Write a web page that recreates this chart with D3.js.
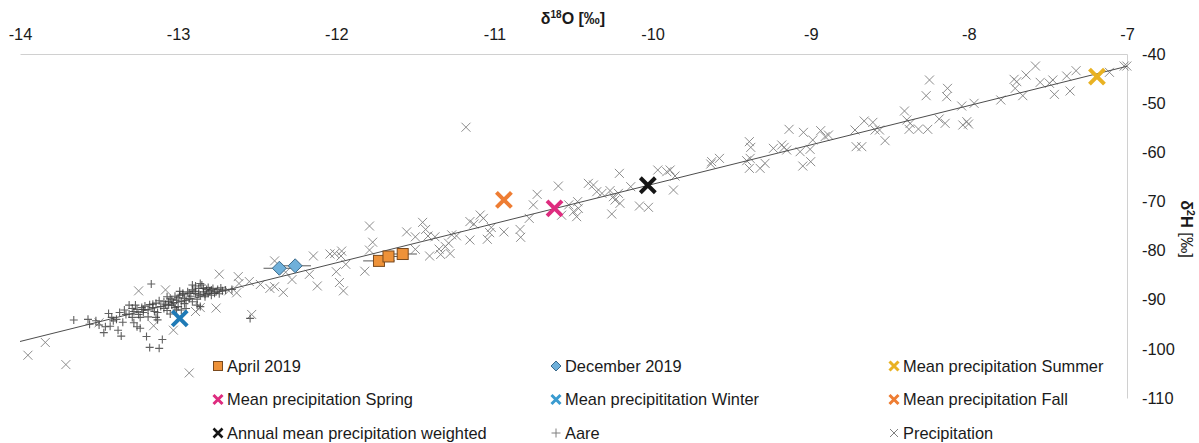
<!DOCTYPE html>
<html>
<head>
<meta charset="utf-8">
<script src="https://cdn.jsdelivr.net/npm/d3@7"></script>
<style>
  html, body { margin: 0; padding: 0; background: #fff; }
  svg { display: block; font-family: "Liberation Sans", Arial, sans-serif; }
</style>
</head>
<body>
<svg id="chart" width="1199" height="443"></svg>
<script>
// Axis ticks
const xTicks = [-14, -13, -12, -11, -10, -9, -8, -7];
const yTicks = [-40, -50, -60, -70, -80, -90, -100, -110];

// Local meteoric water line: d2H = slope * d18O + intercept
const lmwlSlope = 8.0;
const lmwlIntercept = 13.5;

// Precipitation samples [d18O, d2H]
const precipitation = [
  [-13.95, -101.3], [-13.84, -98.7], [-13.71, -103.2], [-12.93, -104.9], [-13.25, -88.2],
  [-13.08, -88.0], [-13.155, -95.3], [-13.03, -96.2], [-13.50, -94.7], [-12.74, -84.8],
  [-12.62, -85.3], [-12.615, -86.7], [-12.63, -88.6], [-12.55, -86.3], [-12.68, -88.2],
  [-12.76, -91.7], [-12.86, -91.6], [-12.89, -92.4], [-12.535, -93.0], [-12.42, -87.7],
  [-12.39, -87.35], [-12.335, -88.5], [-12.48, -86.9], [-12.28, -85.9], [-12.39, -82.1],
  [-12.32, -84.4], [-12.17, -84.84], [-12.12, -87.2], [-12.145, -81.1], [-12.04, -80.7],
  [-12.01, -80.6], [-11.966, -80.1], [-11.97, -81.1], [-12.0, -84.3], [-11.98, -86.5],
  [-11.955, -88.2], [-11.94, -82.8], [-11.82, -84.2], [-11.79, -75.0], [-11.77, -78.3],
  [-11.79, -79.9], [-11.555, -76.2], [-11.50, -77.2], [-11.50, -79.75], [-11.454, -74.26],
  [-11.435, -75.7], [-11.42, -77.04], [-11.41, -81.1], [-11.376, -77.2], [-11.35, -79.7],
  [-11.31, -79.2], [-11.29, -78.5], [-11.28, -80.6], [-11.34, -80.8], [-11.27, -76.8],
  [-11.24, -77.0], [-11.155, -74.1], [-11.13, -74.6], [-11.09, -72.77], [-11.07, -73.45],
  [-11.155, -77.85], [-11.045, -77.7], [-11.03, -76.36], [-11.02, -75.3], [-10.94, -76.2],
  [-10.838, -75.7], [-10.834, -77.3], [-10.78, -73.45], [-10.754, -70.7], [-10.73, -68.56],
  [-10.596, -66.87], [-10.575, -72.8], [-10.53, -70.7], [-10.50, -72.09], [-10.48, -73.1],
  [-10.474, -70.05], [-11.18, -54.9], [-10.469, -71.41], [-10.406, -66.32], [-10.374, -66.66],
  [-10.353, -68.02], [-10.32, -68.36], [-10.269, -67.8], [-10.248, -69.04], [-10.237, -69.71],
  [-10.216, -68.36], [-10.206, -70.39], [-10.21, -64.29], [-10.258, -72.56], [-10.138, -67.0],
  [-10.083, -70.93], [-10.026, -71.2], [-9.967, -63.61], [-9.91, -63.95], [-9.889, -63.61],
  [-9.858, -64.83], [-9.868, -67.68], [-9.632, -62.39], [-9.626, -61.91], [-9.577, -61.24],
  [-9.405, -61.71], [-9.383, -61.24], [-9.388, -57.84], [-9.379, -59.0], [-9.388, -63.27],
  [-9.32, -63.27], [-9.289, -62.25], [-9.236, -59.2], [-9.183, -58.52], [-9.168, -59.0],
  [-9.152, -59.54], [-9.137, -55.33], [-9.067, -59.88], [-9.046, -55.94], [-9.004, -59.4],
  [-8.987, -57.5], [-9.05, -62.8], [-9.0, -61.91], [-8.937, -55.6], [-8.909, -56.8],
  [-8.888, -56.49], [-8.72, -55.47], [-8.713, -58.86], [-8.677, -58.86], [-8.662, -53.64],
  [-8.607, -53.91], [-8.593, -55.47], [-8.565, -55.47], [-8.53, -57.64], [-8.407, -51.6],
  [-8.392, -53.43], [-8.371, -54.11], [-8.378, -55.33], [-8.319, -55.27], [-8.26, -55.33],
  [-8.27, -48.48], [-8.249, -45.29], [-8.188, -53.23], [-8.15, -54.11], [-8.135, -46.99],
  [-8.14, -48.69], [-8.045, -50.59], [-8.038, -54.45], [-8.013, -53.77], [-8.002, -54.25],
  [-7.967, -50.04], [-7.798, -49.36], [-7.714, -45.16], [-7.697, -45.63], [-7.707, -46.99],
  [-7.659, -48.48], [-7.638, -44.28], [-7.579, -42.45], [-7.549, -45.77], [-7.49, -45.97],
  [-7.469, -45.29], [-7.459, -48.21], [-7.381, -44.48], [-7.36, -47.53], [-7.322, -43.4],
  [-7.111, -43.73], [-7.018, -42.45], [-7.001, -42.45]
];

// Aare river samples [d18O, d2H]
const aare = [
  [-13.66, -94.13], [-13.57, -94.0], [-13.56, -95.0], [-13.52, -94.27], [-13.50, -95.15],
  [-13.47, -96.7], [-13.46, -95.5], [-13.44, -92.8], [-13.42, -93.6], [-13.41, -94.3],
  [-13.39, -94.0], [-13.38, -96.2], [-13.37, -92.6], [-13.36, -97.4], [-13.34, -92.1],
  [-13.31, -91.1], [-13.31, -92.9], [-13.29, -93.6], [-13.28, -92.4], [-13.28, -94.7],
  [-13.26, -92.0], [-13.26, -95.5], [-13.24, -95.8], [-13.23, -91.6], [-13.22, -92.6],
  [-13.21, -91.3], [-13.20, -97.5], [-13.19, -93.5], [-13.18, -99.7], [-13.17, -86.8],
  [-13.16, -90.9], [-13.15, -92.4], [-13.14, -93.6], [-13.13, -94.1], [-13.12, -99.9],
  [-13.10, -98.1], [-13.09, -91.8], [-13.09, -90.4], [-13.07, -92.2], [-13.06, -91.1],
  [-13.05, -89.7], [-13.05, -92.9], [-13.03, -90.6], [-13.02, -89.3], [-13.01, -90.1],
  [-13.00, -91.4], [-12.99, -89.1], [-12.98, -90.4], [-12.97, -88.7], [-12.96, -89.7],
  [-12.95, -90.1], [-12.94, -88.4], [-12.92, -89.3], [-12.91, -87.0], [-12.91, -88.0],
  [-12.89, -88.7], [-12.88, -89.9], [-12.87, -87.7], [-12.86, -89.1], [-12.85, -87.0],
  [-12.84, -88.4], [-12.83, -89.4], [-12.82, -87.9], [-12.81, -88.7], [-12.80, -88.2],
  [-12.79, -89.1], [-12.78, -87.7], [-12.77, -88.7], [-12.76, -88.4], [-12.75, -87.9],
  [-12.74, -88.8], [-12.72, -88.2], [-12.70, -88.0], [-12.91, -90.4], [-12.95, -91.8],
  [-12.98, -92.1], [-13.04, -91.1], [-13.11, -91.4], [-13.19, -92.1], [-13.24, -93.6],
  [-13.27, -91.1], [-13.29, -91.8], [-12.86, -91.4], [-12.88, -91.1], [-13.14, -90.7],
  [-13.16, -91.6], [-13.01, -92.1], [-12.545, -93.8], [-12.86, -86.7], [-12.89, -87.2],
  [-12.81, -87.5], [-12.66, -87.9],
  [-13.12, -90.2], [-13.08, -90.9], [-13.04, -90.0], [-13.00, -89.6], [-12.97, -89.0],
  [-12.93, -88.7], [-12.90, -88.3], [-12.87, -88.9], [-12.84, -87.7], [-12.79, -88.0],
  [-12.96, -90.8], [-13.02, -91.6], [-13.06, -90.4], [-13.18, -91.0], [-13.22, -92.0],
  [-13.33, -93.0], [-13.35, -94.6], [-13.25, -93.0], [-13.13, -92.6], [-12.93, -89.8],
  [-12.83, -88.9], [-12.73, -87.6], [-12.99, -88.3], [-13.07, -89.4], [-13.43, -95.4]
];

// Monthly river campaigns [d18O, d2H, d18O error]
const april2019 = [[-11.73, -82.1, 0.10], [-11.67, -81.2, 0.06], [-11.58, -80.7, 0.09]];
const december2019 = [[-12.36, -83.6, 0.10], [-12.26, -83.1, 0.10]];

// Seasonal and annual means of precipitation [d18O, d2H]
const meanSummer = [-7.19, -44.6];
const meanSpring = [-10.62, -71.4];
const meanFall = [-10.94, -69.7];
const meanWinter = [-12.99, -93.8];
const meanAnnual = [-10.03, -66.7];

const legendLabels = [
  "April 2019", "December 2019", "Mean precipitation Summer",
  "Mean precipitation Spring", "Mean precipititation Winter", "Mean precipitation Fall",
  "Annual mean precipitation weighted", "Aare", "Precipitation"
];

const svg = d3.select("#chart");
const x = d3.scaleLinear().domain([-14, -7]).range([20, 1127]);
const y = d3.scaleLinear().domain([-110, -40]).range([398, 54]);

const textColor = "#1a1a1a";
const fontSize = "16.4px";

// X axis along the top
const xAxis = svg.append("g")
  .attr("transform", `translate(0,${y(-40)})`)
  .call(d3.axisTop(x).tickValues(xTicks).tickSize(0).tickSizeOuter(0).tickPadding(14).tickFormat(d3.format("d")));
xAxis.select(".domain").attr("stroke", "#d0d0d0").attr("stroke-width", 1);
xAxis.selectAll("text").attr("font-size", fontSize).attr("fill", textColor)
  .attr("font-family", "Liberation Sans, Arial, sans-serif").text(d => String(d));

// Y axis on the right
const yAxis = svg.append("g")
  .attr("transform", `translate(${x(-7)},0)`)
  .call(d3.axisRight(y).tickValues(yTicks).tickSize(0).tickSizeOuter(0).tickPadding(15));
yAxis.select(".domain").attr("stroke", "#d0d0d0").attr("stroke-width", 1);
yAxis.selectAll("text").attr("font-size", fontSize).attr("fill", textColor)
  .attr("font-family", "Liberation Sans, Arial, sans-serif").text(d => String(d));

// Axis titles
const xTitle = svg.append("text")
  .attr("x", 573).attr("y", 24)
  .attr("text-anchor", "middle")
  .attr("font-size", "16px").attr("font-weight", "bold").attr("fill", textColor);
xTitle.append("tspan").text("δ");
xTitle.append("tspan").attr("font-size", "10px").attr("dy", "-6").text("18");
xTitle.append("tspan").attr("dy", "6").text("O [‰]");

const yTitle = svg.append("text")
  .attr("transform", `translate(1181,229) rotate(90)`)
  .attr("text-anchor", "middle")
  .attr("font-size", "16.4px").attr("fill", textColor);
yTitle.append("tspan").attr("font-weight", "bold").text("δ");
yTitle.append("tspan").attr("font-weight", "bold").attr("font-size", "10.5px").attr("dy", "-6").text("2");
yTitle.append("tspan").attr("font-weight", "bold").attr("dy", "6").text("H ");
yTitle.append("tspan").text("[‰]");

const plot = svg.append("g");

// Cross path helper (x-shaped) and plus path helper
const crossPath = (cx, cy, r) => `M${cx - r},${cy - r}L${cx + r},${cy + r}M${cx - r},${cy + r}L${cx + r},${cy - r}`;
const plusPath = (cx, cy, r) => `M${cx - r},${cy}L${cx + r},${cy}M${cx},${cy - r}L${cx},${cy + r}`;

// Precipitation samples
plot.append("g").selectAll("path").data(precipitation).join("path")
  .attr("d", d => crossPath(x(d[0]), y(d[1]), 4.5))
  .attr("stroke", "#7f7f7f").attr("stroke-width", 1).attr("fill", "none").attr("opacity", 0.9);

// Aare samples
plot.append("g").selectAll("path").data(aare).join("path")
  .attr("d", d => plusPath(x(d[0]), y(d[1]), 4))
  .attr("stroke", "#3a3a3a").attr("stroke-width", 1.1).attr("fill", "none").attr("opacity", 0.8);

// Meteoric water line
plot.append("line")
  .attr("x1", x(-14)).attr("y1", y(lmwlSlope * -14 + lmwlIntercept))
  .attr("x2", x(-7)).attr("y2", y(lmwlSlope * -7 + lmwlIntercept))
  .attr("stroke", "#4d4d4d").attr("stroke-width", 1);

// Horizontal error bars for the river campaigns
const campaigns = april2019.concat(december2019);
plot.append("g").selectAll("line").data(campaigns).join("line")
  .attr("x1", d => x(d[0] - d[2])).attr("x2", d => x(d[0] + d[2]))
  .attr("y1", d => y(d[1])).attr("y2", d => y(d[1]))
  .attr("stroke", "#595959").attr("stroke-width", 1);

// April 2019 squares
plot.append("g").selectAll("rect").data(april2019).join("rect")
  .attr("x", d => x(d[0]) - 5.5).attr("y", d => y(d[1]) - 5.5)
  .attr("width", 11).attr("height", 11)
  .attr("fill", "#ee9239").attr("stroke", "#7a4a1e").attr("stroke-width", 1);

// December 2019 diamonds
plot.append("g").selectAll("path").data(december2019).join("path")
  .attr("d", d => { const cx = x(d[0]), cy = y(d[1]), r = 7; return `M${cx},${cy - r}L${cx + r},${cy}L${cx},${cy + r}L${cx - r},${cy}Z`; })
  .attr("fill", "#6fb0da").attr("stroke", "#3b6a8a").attr("stroke-width", 1);

// Seasonal means
const means = [
  { v: meanSummer, color: "#e9b223" },
  { v: meanSpring, color: "#de2c7f" },
  { v: meanFall, color: "#ee7d33" },
  { v: meanWinter, color: "#1f7ab6" },
  { v: meanAnnual, color: "#151515" }
];
plot.append("g").selectAll("path").data(means).join("path")
  .attr("d", d => crossPath(x(d.v[0]), y(d.v[1]), 7.5))
  .attr("stroke", d => d.color).attr("stroke-width", 4).attr("fill", "none");

// Legend
const colX = [218, 556, 894];
const rowY = [366, 399.5, 433];
const legend = svg.append("g");
const legendMarkers = [
  (g, cx, cy) => g.append("rect").attr("x", cx - 4.5).attr("y", cy - 4.5).attr("width", 9).attr("height", 9)
    .attr("fill", "#ee9239").attr("stroke", "#7a4a1e").attr("stroke-width", 1),
  (g, cx, cy) => g.append("path").attr("d", `M${cx},${cy - 5}L${cx + 5},${cy}L${cx},${cy + 5}L${cx - 5},${cy}Z`)
    .attr("fill", "#6fb0da").attr("stroke", "#3b6a8a").attr("stroke-width", 1),
  (g, cx, cy) => g.append("path").attr("d", crossPath(cx, cy, 4.5)).attr("stroke", "#e9b223").attr("stroke-width", 3).attr("fill", "none"),
  (g, cx, cy) => g.append("path").attr("d", crossPath(cx, cy, 4.5)).attr("stroke", "#de2c7f").attr("stroke-width", 3).attr("fill", "none"),
  (g, cx, cy) => g.append("path").attr("d", crossPath(cx, cy, 4.5)).attr("stroke", "#3a9bd0").attr("stroke-width", 3).attr("fill", "none"),
  (g, cx, cy) => g.append("path").attr("d", crossPath(cx, cy, 4.5)).attr("stroke", "#ee7d33").attr("stroke-width", 3).attr("fill", "none"),
  (g, cx, cy) => g.append("path").attr("d", crossPath(cx, cy, 4.5)).attr("stroke", "#151515").attr("stroke-width", 2.6).attr("fill", "none"),
  (g, cx, cy) => g.append("path").attr("d", plusPath(cx, cy, 4.5)).attr("stroke", "#7f7f7f").attr("stroke-width", 1).attr("fill", "none"),
  (g, cx, cy) => g.append("path").attr("d", crossPath(cx, cy, 4)).attr("stroke", "#7f7f7f").attr("stroke-width", 1).attr("fill", "none")
];
legendLabels.forEach((label, i) => {
  const cx = colX[i % 3], cy = rowY[Math.floor(i / 3)];
  legendMarkers[i](legend, cx, cy);
  legend.append("text").attr("x", cx + 9).attr("y", cy).attr("dy", "0.35em")
    .attr("font-size", fontSize).attr("fill", textColor).text(label);
});
</script>
</body>
</html>
